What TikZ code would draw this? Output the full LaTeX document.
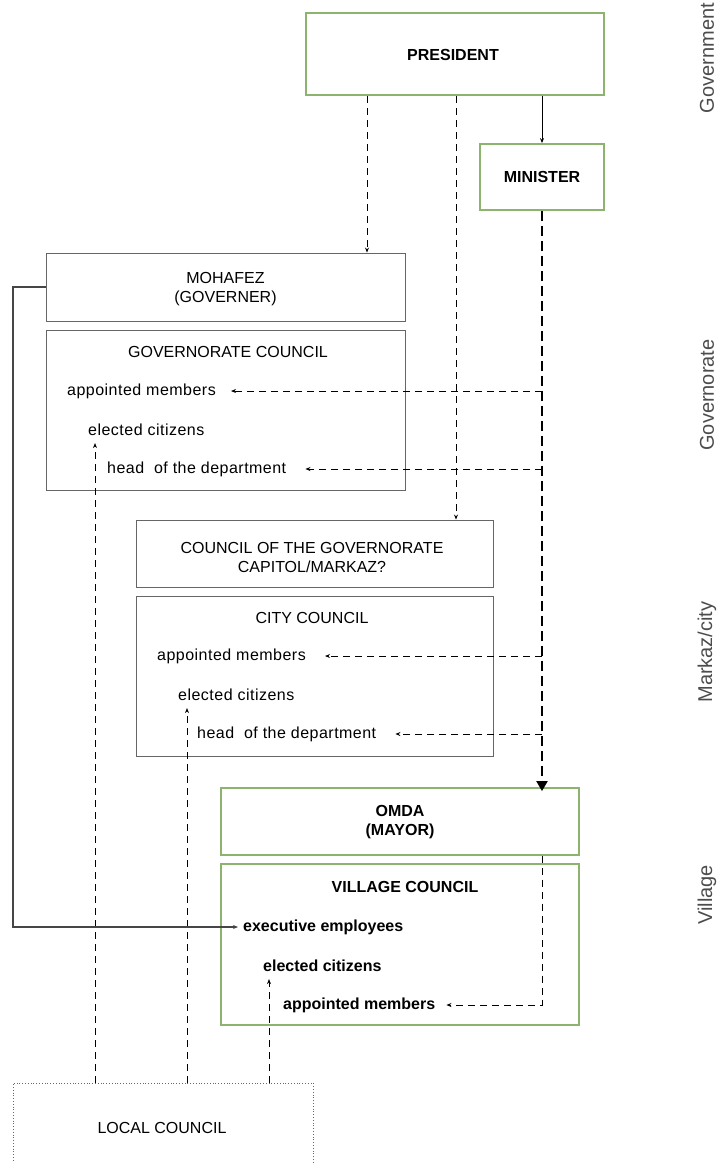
\documentclass[tikz,border=0pt]{standalone}
\usepackage{fontspec}
\setmainfont{Liberation Sans}
\newfontfamily\spacedfont[LetterSpace=3]{Liberation Sans}
\usetikzlibrary{arrows.meta}
\definecolor{boxgreen}{RGB}{140,180,110}
\definecolor{linegray}{RGB}{70,70,70}
\tikzset{
  gbox/.style={draw=boxgreen,line width=1.8pt,fill=none,inner sep=0pt},
  wbox/.style={draw=black!60,line width=0.9pt,inner sep=0pt},
  lcbox/.style={draw=black!60,line width=0.8pt,dotted,inner sep=0pt},
  txt/.style={font=\fontsize{16}{19}\selectfont,inner sep=1pt,align=center},
  btxt/.style={font=\fontsize{16}{19}\selectfont\bfseries,inner sep=1pt,align=center},
  item/.style={font=\fontsize{16}{19}\spacedfont,inner sep=1pt,anchor=west},
  bitem/.style={btxt,anchor=west},
  side/.style={font=\fontsize{20}{24}\selectfont,text=black!70,rotate=90,inner sep=0pt},
  dsh/.style={draw=black,line width=0.9pt,dash pattern=on 7pt off 5pt,-{Stealth[length=5pt,width=4pt]}},
  tdsh/.style={draw=black,line width=2pt,dash pattern=on 10pt off 5pt,-{Triangle[length=10pt,width=11pt]}},
  sol/.style={draw=black,line width=0.9pt,-{Stealth[length=5pt,width=4pt]}},
  gsol/.style={draw=linegray,line width=1.3pt,-{Stealth[length=5pt,width=4pt]}}
}
\begin{document}
\begin{tikzpicture}[x=1pt,y=-1pt]
\useasboundingbox (0,0) rectangle (717,1163);
% boxes
\node[gbox,minimum width=298pt,minimum height=82pt] (pres) at (455,54) {};
\node[btxt] (prest) at (453,55) {PRESIDENT};
\node[gbox,minimum width=124pt,minimum height=66pt] (min) at (542,177) {};
\node[btxt] (mint) at (542,177) {MINISTER};
\node[wbox,minimum width=359pt,minimum height=68pt] (moh) at (225.5,287) {};
\node[txt] (moht) at (225.5,289) {MOHAFEZ\\(GOVERNER)};
\node[wbox,minimum width=359pt,minimum height=160pt] (gc) at (225.5,410) {};
\node[txt] (gct) at (228,352) {GOVERNORATE COUNCIL};
\node[item] (gcam) at (66,391) {appointed members};
\node[item] (gcel) at (87,430) {elected citizens};
\node[item] (gchd) at (106,469) {head\ \ of the department};
\node[wbox,minimum width=357pt,minimum height=67pt] (cg) at (314.5,553.5) {};
\node[txt] (cgt) at (312,557) {COUNCIL OF THE GOVERNORATE\\CAPITOL/MARKAZ?};
\node[wbox,minimum width=357pt,minimum height=160pt] (cc) at (314.5,676) {};
\node[txt] (cct) at (312,618) {CITY COUNCIL};
\node[item] (ccam) at (156,656) {appointed members};
\node[item] (ccel) at (177,695) {elected citizens};
\node[item] (cchd) at (196,734) {head\ \ of the department};
\node[gbox,minimum width=358pt,minimum height=67pt] (omda) at (400,821.5) {};
\node[btxt] (omdat) at (400,822) {OMDA\\(MAYOR)};
\node[gbox,minimum width=358pt,minimum height=161pt] (vc) at (400,944.5) {};
\node[btxt] (vct) at (405,887) {VILLAGE COUNCIL};
\node[bitem] (vcex) at (242,927) {executive employees};
\node[bitem] (vcel) at (262,966) {elected citizens};
\node[bitem] (vcam) at (282,1005) {appointed members};
\node[lcbox,minimum width=300pt,minimum height=110pt] (lc) at (163,1138) {};
\node[txt] (lct) at (162,1128) {LOCAL COUNCIL};
% side labels
\node[side] (s1) at (707,58) {Government};
\node[side] (s2) at (707,395) {Governorate};
\node[side] (s3) at (707,652) {Markaz/city};
\node[side] (s4) at (707,895) {Village};
% helper coordinates
\coordinate (x1) at (367,0);
\coordinate (x2) at (456,0);
\coordinate (e1) at (95,0);
\coordinate (e2) at (187,0);
\coordinate (e3) at (269,0);
\coordinate (lft) at (13,0);
% connectors
\draw[sol] (pres.south -| min.north) -- (min.north);
\draw[dsh] (pres.south -| x1) -- (moh.north -| x1);
\draw[dsh] (pres.south -| x2) -- (cg.north -| x2);
\draw[tdsh] (min.south) -- ([yshift=-4pt]omda.north -| min.south);
\draw[dsh,shorten >=14pt] (gcam.east -| min.south) -- (gcam.east);
\draw[dsh,shorten >=18pt] (gchd.east -| min.south) -- (gchd.east);
\draw[dsh,shorten >=18pt] (ccam.east -| min.south) -- (ccam.east);
\draw[dsh,shorten >=18pt] (cchd.east -| min.south) -- (cchd.east);
\draw[dsh,shorten >=10pt] (omda.south -| min.south) |- (vcam.east);
\draw[dsh] (lc.north -| e1) -- ([yshift=-6pt]gcel.south -| e1);
\draw[dsh] (lc.north -| e2) -- ([yshift=-6pt]ccel.south -| e2);
\draw[dsh] (lc.north -| e3) -- ([yshift=-6pt]vcel.south -| e3);
\draw[gsol,shorten >=4pt] (moh.west) -- (moh.west -| lft) |- (vcex.west);
\end{tikzpicture}
\end{document}
